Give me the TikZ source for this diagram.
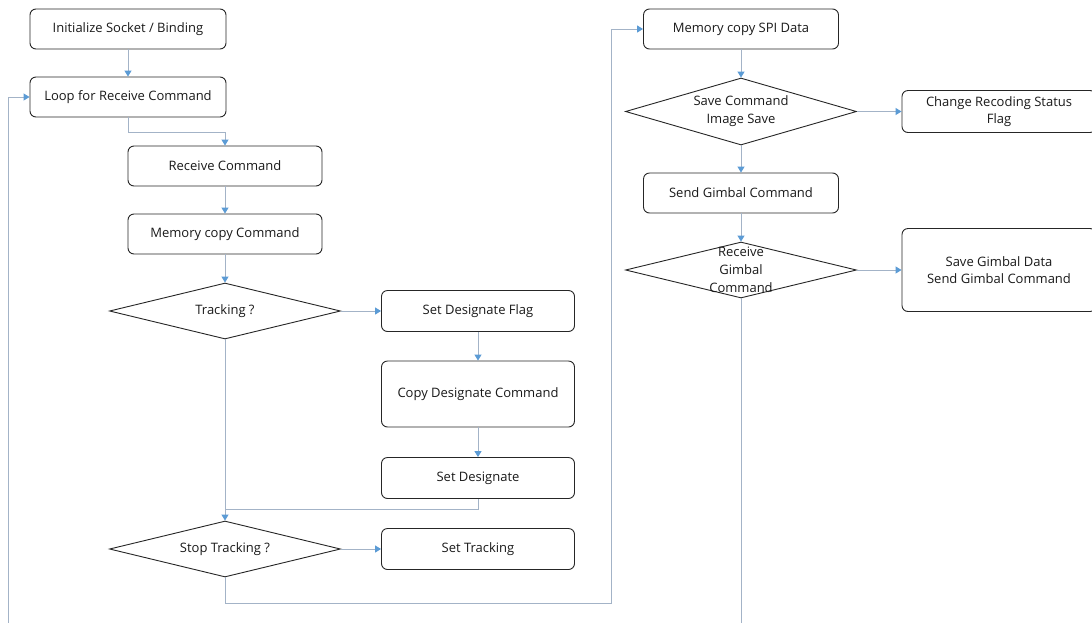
\documentclass[tikz,border=0pt]{standalone}
\usepackage{fontspec}
\setmainfont{Open Sans}
\usetikzlibrary{arrows.meta,shapes.geometric}
\definecolor{linec}{HTML}{A3B3C7}
\definecolor{tipc}{HTML}{5B9BD5}
\definecolor{txtc}{HTML}{1A1A1A}
\tikzset{
  proc/.style={draw=black!85, line width=0.9pt, rounded corners=6pt, text=txtc,
    font=\fontsize{13}{17}\selectfont, align=center, inner sep=0pt},
  decide/.style={draw=black!85, line width=0.9pt, diamond, aspect=1, inner sep=0pt,
    minimum width=231pt, minimum height=56pt},
  dtext/.style={text=txtc, font=\fontsize{13}{18}\selectfont, align=center},
  flow/.style={draw=linec, line width=1pt},
  arr/.style={flow, -{Triangle[color=tipc, length=6pt, width=7pt]}}
}
\begin{document}
\begin{tikzpicture}[x=1pt,y=-1pt]
\useasboundingbox (0,0) rectangle (1092,622);
\fill[white] (0,0) rectangle (1092,622);

% left column
\node[proc, minimum width=196pt, minimum height=40pt] (init) at (128,29) {Initialize Socket / Binding};
\node[proc, minimum width=196pt, minimum height=40pt] (loop) at (128,97) {Loop for Receive Command};
\node[proc, minimum width=194pt, minimum height=40pt] (rcv) at (225,166) {Receive Command};
\node[proc, minimum width=194pt, minimum height=40pt] (mcc) at (225,234) {Memory copy Command};
\node[decide] (trk) at (225,311) {};
\node[dtext] at (trk.center) {Tracking ?};
\node[proc, minimum width=193pt, minimum height=41pt] (sdf) at (478,311) {Set Designate Flag};
\node[proc, minimum width=193pt, minimum height=66pt] (cdc) at (478,394) {Copy Designate Command};
\node[proc, minimum width=193pt, minimum height=41pt] (sd) at (478,478) {Set Designate};
\node[decide] (stop) at (225,549) {};
\node[dtext] at (stop.center) {Stop Tracking ?};
\node[proc, minimum width=193pt, minimum height=41pt] (st) at (478,549) {Set Tracking};

% right column
\node[proc, minimum width=195pt, minimum height=40pt] (spi) at (741,29) {Memory copy SPI Data};
\node[decide, minimum height=67pt] (save) at (741,111.5) {};
\node[dtext] at (save.center) {Save Command\\Image Save};
\node[proc, minimum width=194pt, minimum height=42pt] (crs) at (999,111.5) {Change Recoding Status\\Flag};
\node[proc, minimum width=195pt, minimum height=40pt] (sgc) at (741,193) {Send Gimbal Command};
\node[decide] (rg) at (741,270) {};
\node[dtext] at (rg.center) {Receive\\Gimbal\\Command};
\node[proc, minimum width=194pt, minimum height=83pt] (sgd) at (999,270) {Save Gimbal Data\\Send Gimbal Command};

% free ends and bends
\coordinate (merge) at (225,509);
\coordinate (jump) at (611,603);
\coordinate (lb) at (8,625);
\coordinate (rb) at (741,625);

% connectors
\draw[arr] (init) -- (loop);
\draw[arr] (loop.south) -- ++(0,15) -| (rcv.north);
\draw[arr] (rcv) -- (mcc);
\draw[arr] (mcc) -- (trk.north);
\draw[arr] (trk.east) -- (sdf.west);
\draw[arr] (sdf) -- (cdc);
\draw[arr] (cdc) -- (sd);
\draw[flow] (sd.south) |- (merge);
\draw[arr] (trk.south) -- (stop.north);
\draw[arr] (stop.east) -- (st.west);
\draw[arr] (stop.south) |- (jump) |- (spi.west);
\draw[arr] (lb) |- (loop.west);
\draw[arr] (spi) -- (save.north);
\draw[arr] (save.east) -- (crs.west);
\draw[arr] (save.south) -- (sgc.north);
\draw[arr] (sgc) -- (rg.north);
\draw[arr] (rg.east) -- (sgd.west);
\draw[flow] (rg.south) -- (rb);
\end{tikzpicture}
\end{document}
